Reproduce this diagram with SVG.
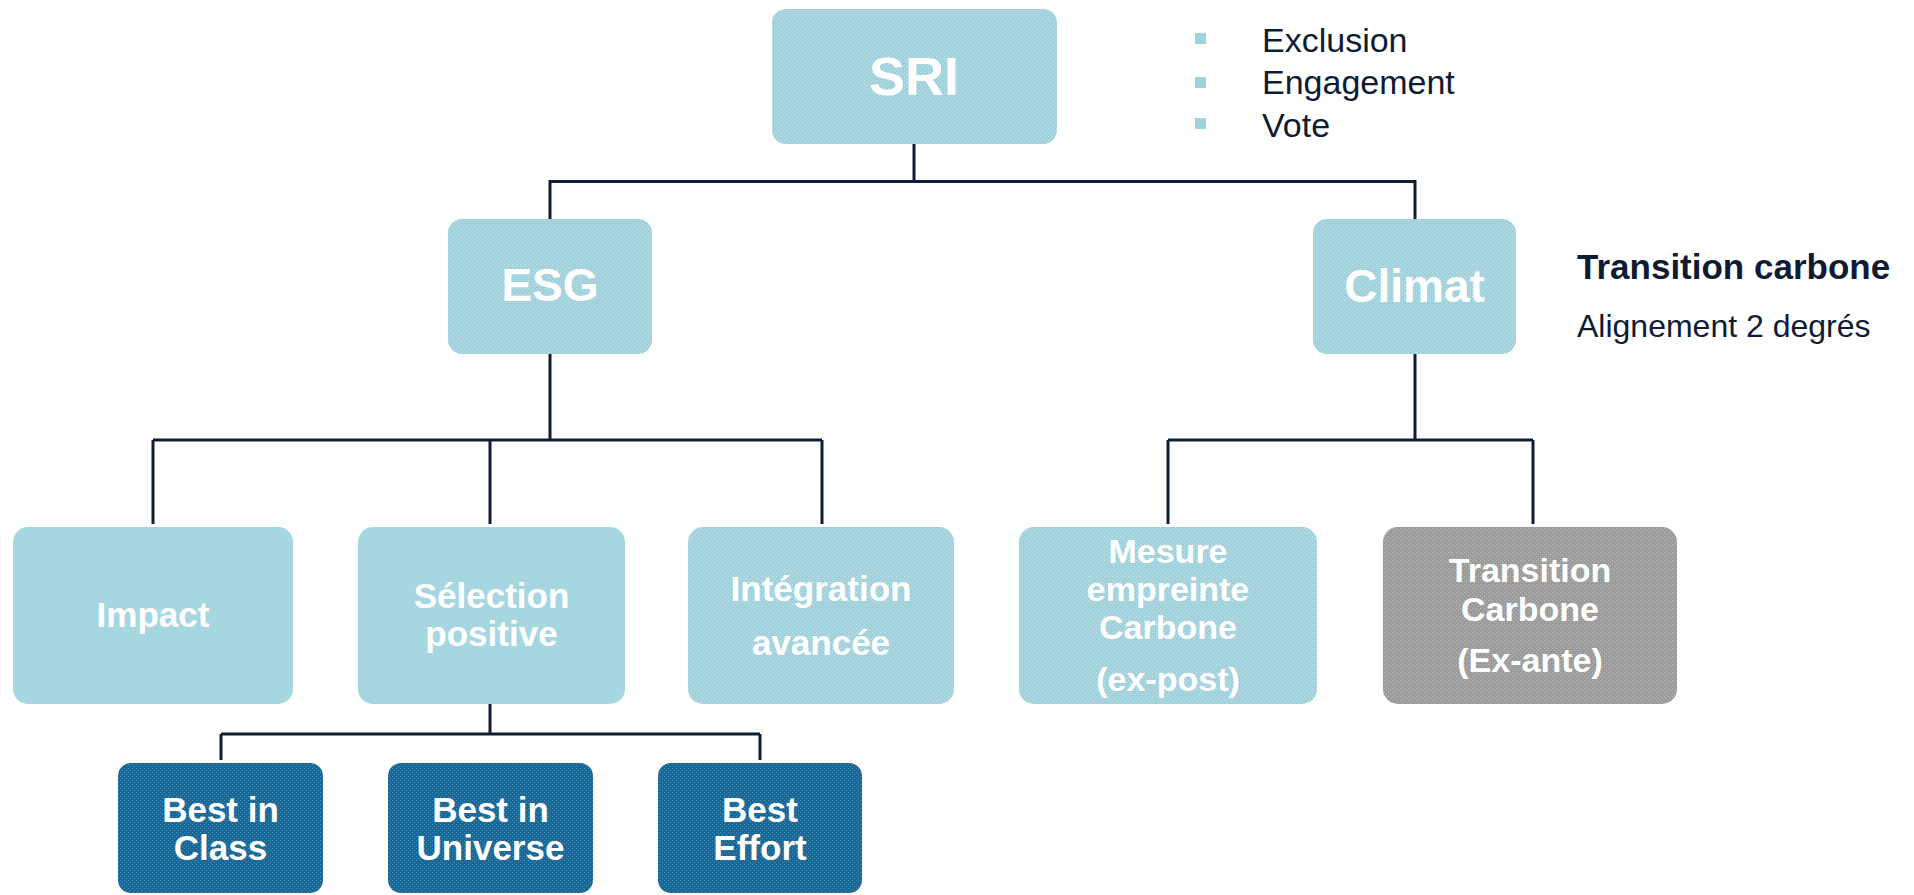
<svg xmlns="http://www.w3.org/2000/svg" width="1914" height="895" viewBox="0 0 1914 895">
  <defs>
    <pattern id="texLight" width="4" height="4" patternUnits="userSpaceOnUse">
      <rect width="4" height="4" fill="#9fd2dc"/>
      <rect x="0" y="0" width="1" height="1" fill="#c6e7ed"/>
      <rect x="2" y="2" width="1" height="1" fill="#c6e7ed"/>
    </pattern>
    <pattern id="texDark" width="4" height="4" patternUnits="userSpaceOnUse">
      <rect width="4" height="4" fill="#176897"/>
      <rect x="0" y="0" width="1" height="1" fill="#4a8fb8"/>
      <rect x="2" y="2" width="1" height="1" fill="#4a8fb8"/>
    </pattern>
    <pattern id="texGrey" width="4" height="4" patternUnits="userSpaceOnUse">
      <rect width="4" height="4" fill="#9b9b9b"/>
      <rect x="0" y="0" width="1" height="1" fill="#bdbdbd"/>
      <rect x="2" y="2" width="1" height="1" fill="#bdbdbd"/>
    </pattern>
  </defs>
  <style>
    .box { stroke: none; }
    .light { fill: url(#texLight); }
    .solid { fill: #a6d7e0; }
    .dark { fill: url(#texDark); }
    .grey { fill: url(#texGrey); }
    .lbl { font-family: "Liberation Sans", Arial, sans-serif; font-weight: bold; fill: #ffffff; text-anchor: middle; }
    .side { font-family: "Liberation Sans", Arial, sans-serif; fill: #0d1b33; }
    .conn { fill: none; stroke: #0f1e35; stroke-width: 3; }
    .bullet { fill: #9ed3dc; }
  </style>
  <rect width="1914" height="895" fill="#ffffff"/>

  <g id="connectors">
    <path class="conn" d="M914 144 V181.5 M549 181.5 H1415 M550 180 V219 M1415 180 V219"/>
    <path class="conn" d="M550 354 V440 M153 440 H822 M153 440 V524 M490 440 V524 M822 440 V524"/>
    <path class="conn" d="M1415 354 V440 M1168 440 H1533 M1168 440 V524 M1533 440 V524"/>
    <path class="conn" d="M490 704 V734 M221 734 H760 M221 734 V760 M760 734 V760"/>
  </g>

  <g id="node-sri">
    <rect class="box light" x="772" y="9" width="285" height="135" rx="14"/>
    <text class="lbl" x="914" y="95" font-size="54">SRI</text>
  </g>

  <g id="sri-list">
    <rect class="bullet" x="1195" y="33" width="11" height="11"/>
    <rect class="bullet" x="1195" y="77" width="11" height="11"/>
    <rect class="bullet" x="1195" y="118" width="11" height="11"/>
    <text class="side" x="1262" y="52" font-size="34">Exclusion</text>
    <text class="side" x="1262" y="94" font-size="34">Engagement</text>
    <text class="side" x="1262" y="137" font-size="34">Vote</text>
  </g>

  <g id="node-esg">
    <rect class="box light" x="448" y="219" width="204" height="135" rx="14"/>
    <text class="lbl" x="550" y="301" font-size="46">ESG</text>
  </g>

  <g id="node-climat">
    <rect class="box light" x="1313" y="219" width="203" height="135" rx="14"/>
    <text class="lbl" x="1414.5" y="302" font-size="46">Climat</text>
  </g>

  <g id="climat-note">
    <text class="side" x="1577" y="279" font-size="35" font-weight="bold">Transition carbone</text>
    <text class="side" x="1577" y="337" font-size="32">Alignement 2 degrés</text>
  </g>

  <g id="node-impact">
    <rect class="box solid" x="13" y="527" width="280" height="177" rx="15"/>
    <text class="lbl" x="153" y="627" font-size="35">Impact</text>
  </g>

  <g id="node-selection">
    <rect class="box solid" x="358" y="527" width="267" height="177" rx="15"/>
    <text class="lbl" x="491" y="608" font-size="35"><tspan x="491.5">Sélection</tspan><tspan x="491.5" y="646">positive</tspan></text>
  </g>

  <g id="node-integration">
    <rect class="box light" x="688" y="527" width="266" height="177" rx="15"/>
    <text class="lbl" x="821" y="601" font-size="35"><tspan x="821">Intégration</tspan><tspan x="821" y="655">avancée</tspan></text>
  </g>

  <g id="node-mesure">
    <rect class="box light" x="1019" y="527" width="298" height="177" rx="15"/>
    <text class="lbl" x="1168" y="563" font-size="34"><tspan x="1168">Mesure</tspan><tspan x="1168" y="601">empreinte</tspan><tspan x="1168" y="639">Carbone</tspan><tspan x="1168" y="691">(ex-post)</tspan></text>
  </g>

  <g id="node-transition">
    <rect class="box grey" x="1383" y="527" width="294" height="177" rx="15"/>
    <text class="lbl" x="1530" y="582" font-size="34"><tspan x="1530">Transition</tspan><tspan x="1530" y="621">Carbone</tspan><tspan x="1530" y="672">(Ex-ante)</tspan></text>
  </g>

  <g id="node-best-class">
    <rect class="box dark" x="118" y="763" width="205" height="130" rx="13"/>
    <text class="lbl" x="220.5" y="822" font-size="35"><tspan x="220.5">Best in</tspan><tspan x="220.5" y="860">Class</tspan></text>
  </g>

  <g id="node-best-universe">
    <rect class="box dark" x="388" y="763" width="205" height="130" rx="13"/>
    <text class="lbl" x="490.5" y="822" font-size="35"><tspan x="490.5">Best in</tspan><tspan x="490.5" y="860">Universe</tspan></text>
  </g>

  <g id="node-best-effort">
    <rect class="box dark" x="658" y="763" width="204" height="130" rx="13"/>
    <text class="lbl" x="760" y="822" font-size="35"><tspan x="760">Best</tspan><tspan x="760" y="860">Effort</tspan></text>
  </g>
</svg>
